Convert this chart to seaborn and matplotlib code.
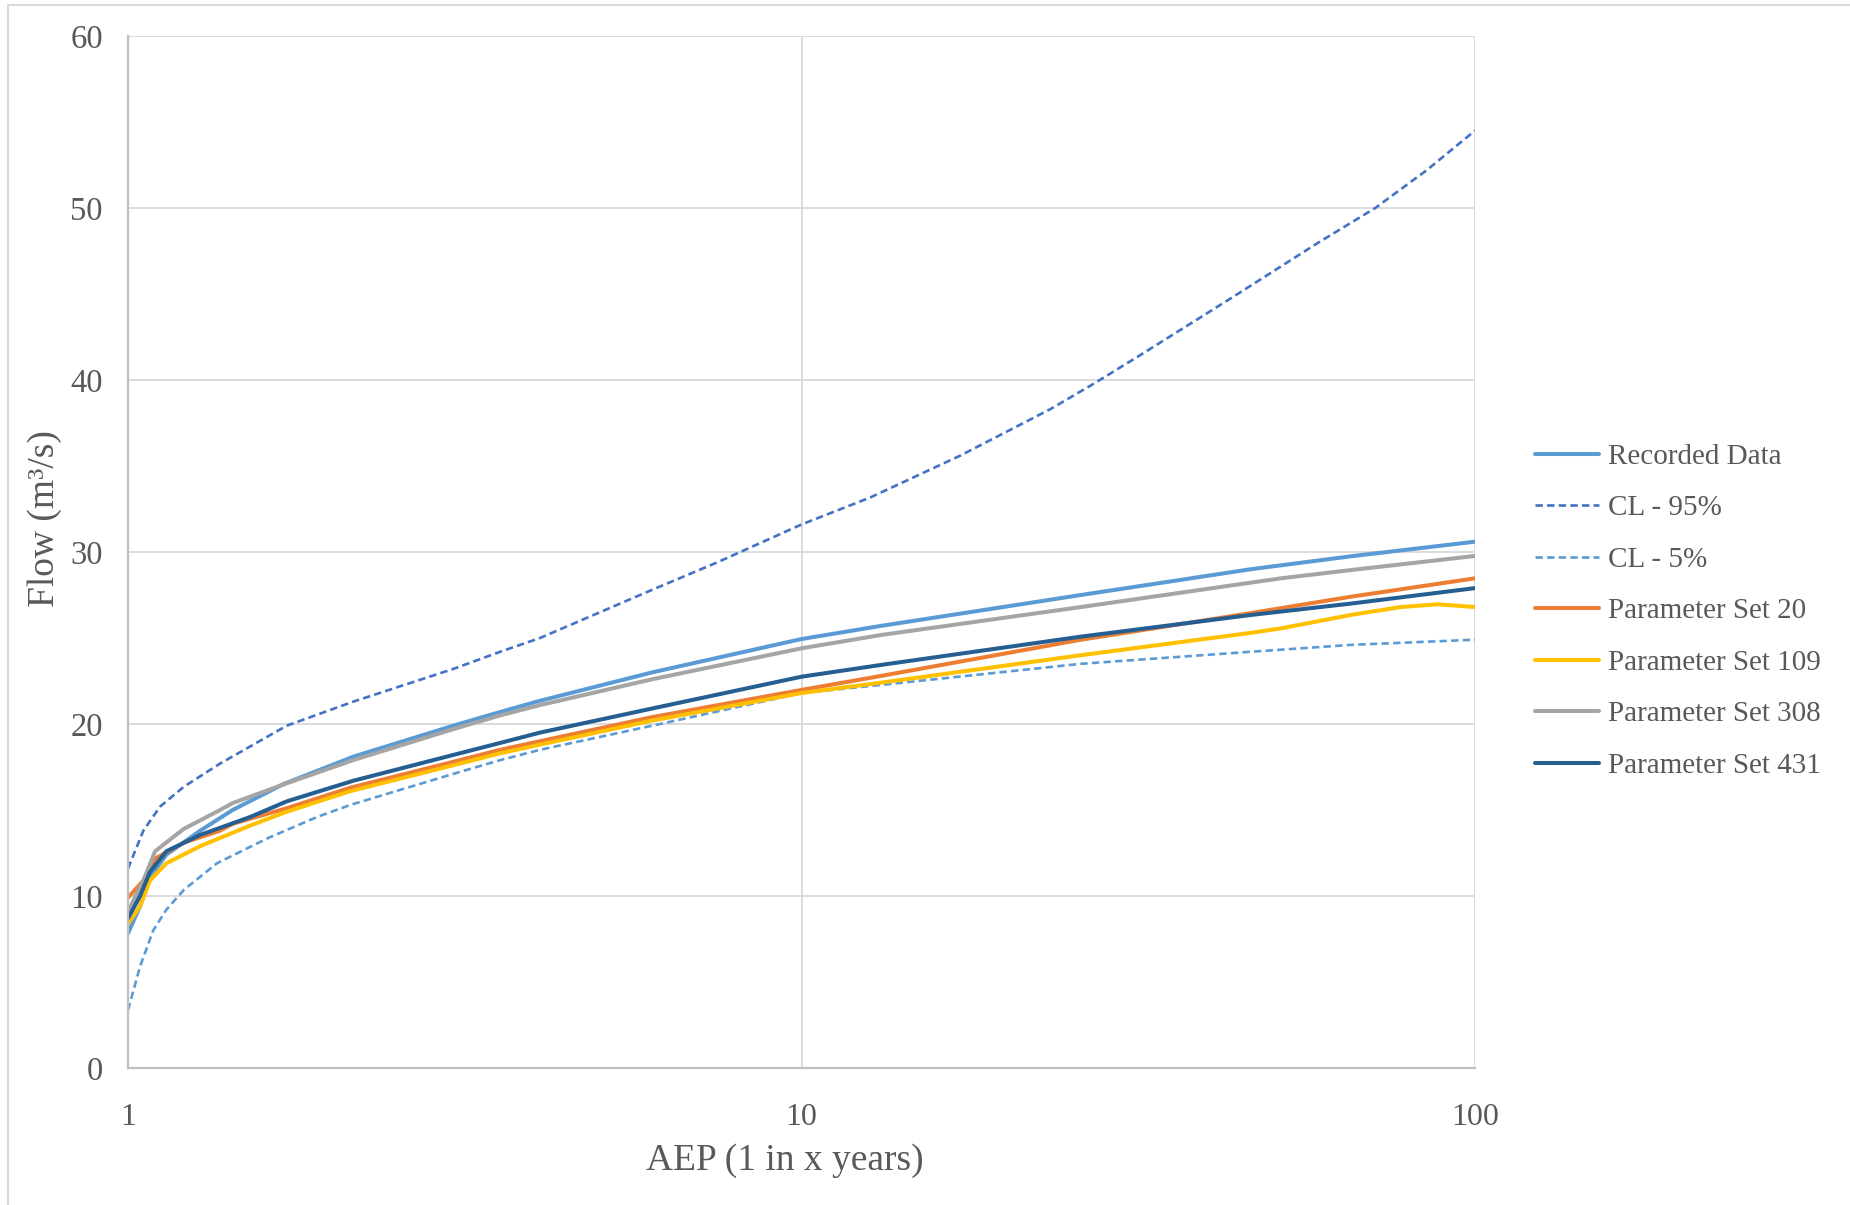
import matplotlib
matplotlib.use("Agg")
import matplotlib.pyplot as plt
import seaborn as sns
import pandas as pd
from matplotlib.lines import Line2D

sns.set_theme(style="white")
plt.rcParams.update({
    'font.family': ['Liberation Serif', 'DejaVu Serif'],
    'text.color': '#595959',
    'axes.labelcolor': '#595959',
    'xtick.color': '#595959',
    'ytick.color': '#595959',
})

# AEP (1 in x years) / flow (m3/s)
rec_aep = [1.0, 1.042, 1.078, 1.14, 1.28, 1.43, 1.7, 2.16, 3.04, 3.57, 4.09, 6.0, 10, 13.1, 26, 46.5, 65.4, 100]
rec_q = [7.83, 9.4, 11.1, 12.4, 13.8, 15.0, 16.5, 18.1, 19.9, 20.7, 21.35, 23.0, 24.94, 25.7, 27.5, 29.0, 29.75, 30.6]

cl95_aep = [1.0, 1.054, 1.116, 1.21, 1.37, 1.72, 2.16, 3.04, 3.57, 4.09, 6.0, 7.5, 10, 12.65, 17.2, 23.4,
            27.2, 31.7, 43.2, 58.6, 71.1, 84.8, 100]
cl95_q = [11.6, 13.8, 15.2, 16.35, 17.7, 19.9, 21.3, 23.2, 24.2, 25.0, 27.8, 29.4, 31.6, 33.17, 35.6, 38.3,
          39.8, 41.4, 44.7, 48.0, 50.0, 52.2, 54.5]

cl5_aep = [1.0, 1.042, 1.09, 1.14, 1.21, 1.355, 1.61, 1.91, 2.14, 3.04, 3.57, 4.09, 6.0, 10, 13.1, 26, 46.5, 65.4, 100]
cl5_q = [3.37, 5.9, 8.0, 9.2, 10.35, 11.9, 13.35, 14.6, 15.3, 17.1, 17.9, 18.5, 19.9, 21.8, 22.27, 23.5, 24.2, 24.6, 24.9]

p20_aep = [1.0, 1.054, 1.10, 1.21, 1.37, 1.43, 1.72, 2.14, 3.04, 3.57, 4.09, 6.0, 10, 13.1, 26, 46.5, 65.4, 100]
p20_q = [9.9, 10.9, 12.2, 13.1, 13.8, 14.2, 15.1, 16.3, 17.8, 18.5, 19.0, 20.4, 21.98, 22.79, 24.9, 26.45, 27.4, 28.47]

p109_aep = [1.0, 1.042, 1.078, 1.14, 1.28, 1.52, 1.72, 2.14, 3.04, 3.57, 4.09, 6.0, 10, 13.1, 26, 46.5, 51.5, 65.4,
            77.6, 88, 100]
p109_q = [8.4, 9.4, 10.9, 11.9, 12.9, 14.1, 14.9, 16.1, 17.6, 18.3, 18.8, 20.2, 21.8, 22.4, 24.0, 25.3, 25.56, 26.34,
          26.8, 26.96, 26.8]

p308_aep = [1.0, 1.054, 1.097, 1.21, 1.37, 1.43, 1.72, 2.16, 3.04, 3.57, 4.09, 6.0, 10, 13.1, 26, 51.5, 65.4, 100]
p308_q = [9.1, 10.9, 12.6, 13.9, 15.0, 15.4, 16.55, 17.9, 19.7, 20.5, 21.1, 22.6, 24.4, 25.17, 26.8, 28.47, 28.95, 29.77]

p431_aep = [1.0, 1.042, 1.078, 1.14, 1.28, 1.52, 1.72, 2.16, 3.04, 3.57, 4.09, 6.0, 10, 13.1, 26, 46.5, 65.4, 100]
p431_q = [8.7, 10.0, 11.4, 12.6, 13.55, 14.6, 15.5, 16.7, 18.2, 18.9, 19.5, 20.9, 22.75, 23.43, 25.08, 26.34, 27.0, 27.9]

series = [
    ("Recorded Data", rec_aep, rec_q, "#5B9BD5", "-"),
    ("CL - 95%", cl95_aep, cl95_q, "#4472C4", "--"),
    ("CL - 5%", cl5_aep, cl5_q, "#5B9BD5", "--"),
    ("Parameter Set 20", p20_aep, p20_q, "#ED7D31", "-"),
    ("Parameter Set 109", p109_aep, p109_q, "#FFC000", "-"),
    ("Parameter Set 308", p308_aep, p308_q, "#A5A5A5", "-"),
    ("Parameter Set 431", p431_aep, p431_q, "#255E91", "-"),
]

fig = plt.figure(figsize=(18.5, 12.05), dpi=100)
ax = fig.add_axes([128 / 1850, 1 - 1068 / 1205, (1475 - 128) / 1850, (1068 - 36) / 1205])

for name, xs, ys, col, ls in series:
    df = pd.DataFrame({"AEP": xs, "Flow": ys})
    if ls == "--":
        sns.lineplot(data=df, x="AEP", y="Flow", ax=ax, color=col, lw=1.9, label=name,
                     estimator=None, dashes=False, linestyle=(0, (2.8, 1.6)))
    else:
        sns.lineplot(data=df, x="AEP", y="Flow", ax=ax, color=col, lw=2.9, label=name,
                     estimator=None, solid_capstyle="round", solid_joinstyle="round")

ax.set_xscale("log")
ax.set_xlim(1, 100)
ax.set_ylim(0, 60)
ax.set_xticks([1, 10, 100])
ax.set_xticklabels(["1", "10", "100"])
ax.minorticks_off()
ax.set_yticks(range(0, 61, 10))

ax.grid(True, which="major", color="#D9D9D9", lw=1.3)
ax.set_axisbelow(True)
for s in ["top", "right"]:
    ax.spines[s].set_visible(False)
for s in ["left", "bottom"]:
    ax.spines[s].set_color("#BFBFBF")
    ax.spines[s].set_linewidth(1.6)

ax.tick_params(axis="x", length=6, width=1.2, color="#BFBFBF", pad=19, labelsize=23, direction="out")
ax.tick_params(axis="y", length=0, pad=18, labelsize=23.5)
ax.set_xlabel("")
ax.set_ylabel("")

fig.text(785 / 1850, 1 - 1161 / 1205, "AEP (1 in x years)", ha="center", va="center", fontsize=27, color="#595959")
fig.text(45 / 1850, 1 - 519 / 1205, "Flow (m³/s)", ha="center", va="center", rotation=90, fontsize=27,
         color="#595959")

leg = ax.legend(loc="center left", bbox_to_anchor=(1535 / 1850, 1 - 611 / 1205), bbox_transform=fig.transFigure,
                frameon=False, fontsize=21, handlelength=2.2, handletextpad=0.3, labelspacing=0.86,
                borderpad=0, borderaxespad=0)
for t in leg.get_texts():
    t.set_color("#595959")

# chart area border (top and left edges visible)
fig.add_artist(Line2D([8 / 1850, 1], [1 - 5 / 1205, 1 - 5 / 1205], transform=fig.transFigure, color="#D9D9D9", lw=1.5))
fig.add_artist(Line2D([8 / 1850, 8 / 1850], [0, 1 - 5 / 1205], transform=fig.transFigure, color="#D9D9D9", lw=1.5))

fig.savefig("out.png", dpi=100)
